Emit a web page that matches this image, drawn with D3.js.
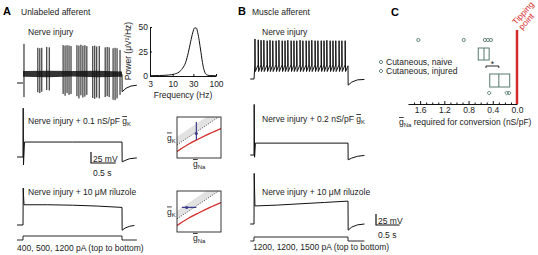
<!DOCTYPE html>
<html>
<head>
<meta charset="utf-8">
<script src="https://cdn.jsdelivr.net/npm/d3@7"></script>
<style>
    body { margin: 0; background: #fff; }
    svg text { font-family: "Liberation Sans", Arial, sans-serif; font-size: 8.5px; fill: #222; }
    .panel { font-size: 11px; font-weight: bold; fill: #000; }
</style>
</head>
<body>
<svg id="fig" width="538" height="255"></svg>
<script>
// ---- A: unlabeled afferent (times in s, stimulus 0-2 s, voltage in mV) ----
var aSpikeT = [0.02, 0.30, 0.34, 0.38, 0.48, 0.53, 0.81, 0.85, 0.89, 0.93, 0.97,
    1.09, 1.13, 1.17, 1.21, 1.25, 1.29, 1.41, 1.45, 1.49, 1.54, 1.66, 1.70, 1.74,
    1.82, 1.86, 1.90, 1.96];
var aSpikePeak = [24, 15, 14, 15, 17, 16, 21, 20, 21, 20, 19, 21, 20, 22, 20, 21, 19,
    19, 20, 18, 19, 16, 17, 16, 14, 15, 14, 10];
var aSpikeTrough = [-97, -86, -88, -85, -81, -82, -90, -94, -88, -92, -90, -95, -100,
    -93, -98, -96, -92, -99, -101, -98, -100, -97, -95, -97, -103, -104, -100, -92];
var aBandT = [0, 0.5, 1, 1.5, 2];
var aBandHi = [-38, -37, -38, -37, -39];
var aBandLo = [-51, -52, -50, -52, -51];
var aPreT = [-0.12, 0];
var aPreV = [-65, -65];
var aPostT = [2, 2.003, 2.08, 2.18, 2.3];
var aPostV = [-45, -85, -77, -72, -70];

var aGkT = [-0.12, 0, 0.004, 0.01, 0.03, 1, 2, 2.003, 2.06, 2.15, 2.3];
var aGkV = [-65, -65, 46, -83, -31, -31, -31, -76, -73, -69, -67];
var aRiluT = [-0.12, 0, 0.004, 0.02, 0.5, 1, 1.5, 2, 2.003, 2.06, 2.15, 2.25];
var aRiluV = [-65, -65, 19, -19, -19, -20, -22, -25, -77, -72, -68, -66];
var aStimT = [-0.12, 0, 0, 2, 2, 2.3];
var aStimI = [0, 0, 1, 1, 0, 0];
var aStimLabel = "400, 500, 1200 pA (top to bottom)";

// power spectrum of the nerve injury trace
var psdFreq = [3, 5, 8, 11, 14, 17, 20, 23, 26, 29, 32, 35, 38, 41, 45, 50, 55, 60, 70, 100];
var psdPower = [0.3, 0.5, 1, 2, 4, 8, 14, 24, 35, 44, 49, 49, 44, 36, 24, 11, 4, 1.5, 0.5, 0.2];
var psdYTicks = [0, 25, 50];
var psdXTicks = [3, 10, 30, 100];

// gK / gNa insets (arbitrary units 0-1)
var insetDotted = [[0, 0.32], [1, 1.04]];
var insetBand = [[0, 0.32], [1, 1.04], [1, 1.24], [0, 0.52]];
var insetRed = [[0, 0.16], [0.25, 0.33], [0.5, 0.47], [0.75, 0.6], [1, 0.72]];
var insetGk = { na: 0.44, k: 0.6, lo: 0.44, hi: 0.88 };          // vertical bar
var insetRilu = { na: 0.22, k: 0.6, lo: 0.11, hi: 0.44 };        // horizontal bar

// ---- B: muscle afferent ----
var bSpikeT = [0.02, 0.09, 0.15, 0.21, 0.28, 0.34, 0.40, 0.47, 0.53, 0.60, 0.66,
    0.72, 0.79, 0.85, 0.91, 0.98, 1.04, 1.11, 1.17, 1.23, 1.30, 1.36, 1.43, 1.49,
    1.55, 1.62, 1.68, 1.74, 1.81, 1.87, 1.94];
var bSpikePeak = [26, 24, 23, 23, 22, 23, 22, 22, 23, 22, 22, 23, 22, 22, 22, 23,
    22, 22, 22, 23, 22, 22, 22, 22, 23, 22, 22, 22, 22, 22, 22];
var bSpikeTrough = -48;
var bThresh = -33;
var bPostT = [2, 2.003, 2.08, 2.2, 2.35];
var bPostV = [-35, -79, -72, -67, -66];

var bGkT = [-0.08, 0, 0.004, 0.012, 0.03, 1, 2, 2.003, 2.08, 2.2, 2.35];
var bGkV = [-65, -65, 50, -70, -38, -38, -38, -76, -72, -68, -66];
var bRiluT = [-0.08, 0, 0.004, 0.02, 0.5, 1, 1.5, 2, 2.003, 2.08, 2.2, 2.35];
var bRiluV = [-65, -65, 50, -24, -22, -19, -16, -13, -79, -72, -67, -65];
var bStimT = [-0.08, 0, 0, 2, 2, 2.35];
var bStimI = [0, 0, 1, 1, 0, 0];
var bStimLabel = "1200, 1200, 1500 pA (top to bottom)";

// ---- C: gNa required for conversion (nS/pF) ----
var cNaive = [1.63, 0.88, 0.53, 0.48, 0.43];
var cInjured = [0.46, 0.17, 0.13];
var cNaiveBox = { q1: 0.46, med: 0.545, q3: 0.64 };
var cInjuredBox = { q1: 0.12, med: 0.30, q3: 0.45 };
var cTicks = [0, 0.4, 0.8, 1.2, 1.6];
var cMinorTicks = [0.1, 0.2, 0.3, 0.5, 0.6, 0.7, 0.9, 1.0, 1.1, 1.3, 1.4, 1.5, 1.7];
var cLegend = ["Cutaneous, naive", "Cutaneous, injured"];

var svg = d3.select("#fig");
var mvPx = 11 / 25; // 25 mV scale bar is 11 px tall
var ink = "#111";
var green = "#557a6c";
var red = "#d42a2a";

function makeRow(x0, pxPerS, restY) {
    return {
        x: d3.scaleLinear().domain([0, 2]).range([x0, x0 + 2 * pxPerS]),
        y: d3.scaleLinear().domain([-65, -40]).range([restY, restY - 25 * mvPx])
    };
}

function drawTrace(r, T, V) {
    var line = d3.line()
        .x(function (d) { return r.x(d[0]); })
        .y(function (d) { return r.y(d[1]); });
    svg.append("path")
        .attr("d", line(d3.zip(T, V)))
        .attr("fill", "none")
        .attr("stroke", ink)
        .attr("stroke-width", 1);
}

function drawStim(r, T, I, yLow) {
    var ys = d3.scaleLinear().domain([0, 1]).range([yLow, yLow - 4]);
    var line = d3.line()
        .x(function (d) { return r.x(d[0]); })
        .y(function (d) { return ys(d[1]); });
    svg.append("path")
        .attr("d", line(d3.zip(T, I)))
        .attr("fill", "none")
        .attr("stroke", ink)
        .attr("stroke-width", 0.9);
}

// text with g-bar and subscript
function gbar(sel, sub) {
    sel.append("tspan").text("g").style("text-decoration", "overline");
    sel.append("tspan").text(sub).attr("font-size", "6px").attr("dy", 2);
}

function label(x, y, txt, cls) {
    return svg.append("text").attr("x", x).attr("y", y).attr("class", cls || null).text(txt);
}

function scaleBar(r, x, y) {
    var w = r.x(0.5) - r.x(0);
    var h = 25 * mvPx;
    svg.append("path")
        .attr("d", "M" + x + "," + (y - h) + "V" + y + "H" + (x + w))
        .attr("fill", "none").attr("stroke", ink).attr("stroke-width", 1.2);
    label(x + 2, y - 1.5, "25 mV");
    label(x + 2, y + 13, "0.5 s");
}

// ================= panel A =================
label(3, 15, "A", "panel");
label(21, 15, "Unlabeled afferent");
label(28, 35, "Nerve injury");

var rA1 = makeRow(23, 49.5, 83);
drawTrace(rA1, aPreT, aPreV);
svg.append("path")
    .attr("d", d3.area()
        .x(function (d) { return rA1.x(d[0]); })
        .y0(function (d) { return rA1.y(d[2]); })
        .y1(function (d) { return rA1.y(d[1]); })(d3.zip(aBandT, aBandHi, aBandLo)))
    .attr("fill", ink).attr("opacity", 0.85);
svg.append("g").selectAll("line")
    .data(d3.zip(aSpikeT, aSpikePeak, aSpikeTrough))
    .enter().append("line")
    .attr("x1", function (d) { return rA1.x(d[0]); })
    .attr("x2", function (d) { return rA1.x(d[0]); })
    .attr("y1", function (d) { return rA1.y(d[1]); })
    .attr("y2", function (d) { return rA1.y(d[2]); })
    .attr("stroke", ink).attr("stroke-width", 1);
drawTrace(rA1, aPostT, aPostV);

var rA2 = makeRow(23, 49.5, 157);
var t2 = label(28, 124, "Nerve injury + 0.1 nS/pF ");
gbar(t2, "K");
drawTrace(rA2, aGkT, aGkV);
scaleBar(rA2, 91, 163);

var rA3 = makeRow(23, 49.5, 225);
label(28, 195, "Nerve injury + 10 \u03bcM riluzole");
drawTrace(rA3, aRiluT, aRiluV);
drawStim(rA3, aStimT, aStimI, 240);
label(17, 251, aStimLabel);

// power spectrum inset
var px = d3.scaleLog().domain([3, 100]).range([150, 216]);
var py = d3.scaleLinear().domain([0, 50]).range([76, 27]);
var psd = svg.append("g");
psd.append("g")
    .attr("transform", "translate(0," + py(0) + ")")
    .call(d3.axisBottom(px).tickValues(psdXTicks).tickFormat(d3.format("d"))
        .tickSizeInner(-2).tickSizeOuter(0).tickPadding(5));
psd.append("g")
    .attr("transform", "translate(" + px(3) + ",0)")
    .call(d3.axisLeft(py).tickValues(psdYTicks).tickSizeInner(-2).tickSizeOuter(0).tickPadding(2));
psd.selectAll(".domain, .tick line").attr("stroke", ink);
psd.selectAll(".tick text").attr("font-size", "8.5px").attr("font-family", null);
psd.append("path")
    .attr("d", d3.line()
        .x(function (d) { return px(d[0]); })
        .y(function (d) { return py(d[1]); })
        .curve(d3.curveMonotoneX)(d3.zip(psdFreq, psdPower)))
    .attr("fill", "none").attr("stroke", ink).attr("stroke-width", 1);
psd.append("text").attr("x", 183).attr("y", 98).attr("text-anchor", "middle").text("Frequency (Hz)");
psd.append("text")
    .attr("transform", "translate(131,51) rotate(-90)")
    .attr("text-anchor", "middle").text("Power (\u03bcV\u00b2/Hz)");

// gK-gNa insets
function drawInset(y0, m, id, horiz) {
    var x0 = 177, w = 44, h = 41;
    var ix = d3.scaleLinear().domain([0, 1]).range([x0, x0 + w]);
    var iy = d3.scaleLinear().domain([0, 1]).range([y0 + h, y0]);
    var line = d3.line()
        .x(function (d) { return ix(d[0]); })
        .y(function (d) { return iy(d[1]); });
    svg.append("clipPath").attr("id", id)
        .append("rect").attr("x", x0).attr("y", y0).attr("width", w).attr("height", h);
    var g = svg.append("g").attr("clip-path", "url(#" + id + ")");
    g.append("path").attr("d", line(insetBand) + "Z").attr("fill", "#e2e2e2");
    g.append("path").attr("d", line(insetDotted)).attr("stroke", "#333")
        .attr("stroke-width", 0.9).attr("stroke-dasharray", "1,1.5").attr("fill", "none");
    g.append("path").attr("d", line.curve(d3.curveMonotoneX)(insetRed)).attr("stroke", red)
        .attr("stroke-width", 1.3).attr("fill", "none");
    var blue = "#3b3b8e";
    if (horiz) {
        g.append("line").attr("x1", ix(m.lo)).attr("x2", ix(m.hi))
            .attr("y1", iy(m.k)).attr("y2", iy(m.k)).attr("stroke", blue).attr("stroke-width", 1.2);
    } else {
        g.append("line").attr("x1", ix(m.na)).attr("x2", ix(m.na))
            .attr("y1", iy(m.lo)).attr("y2", iy(m.hi)).attr("stroke", blue).attr("stroke-width", 1.2);
    }
    g.append("circle").attr("cx", ix(m.na)).attr("cy", iy(m.k)).attr("r", 1.5).attr("fill", blue);
    svg.append("rect").attr("x", x0).attr("y", y0).attr("width", w).attr("height", h)
        .attr("fill", "none").attr("stroke", "#222").attr("stroke-width", 0.9);
    gbar(label(167, y0 + h / 2 + 3, ""), "K");
    gbar(label(193, y0 + h + 9, ""), "Na");
}
drawInset(117, insetGk, "clipA2", false);
drawInset(191, insetRilu, "clipA3", true);

// ================= panel B =================
label(238, 15, "B", "panel");
label(252, 15, "Muscle afferent");
label(262, 35, "Nerve injury");

var rB1 = makeRow(254, 47, 79);
var bPts = [[-0.08, -65], [0, -65]];
bSpikeT.forEach(function (t, i) {
    bPts.push([t - 0.002, bThresh]);
    bPts.push([t, bSpikePeak[i]]);
    bPts.push([t + 0.008, bSpikeTrough]);
});
bPts.push([bPostT[0], bPostV[0]]);
drawTrace(rB1, bPts.map(function (d) { return d[0]; }), bPts.map(function (d) { return d[1]; }));
drawTrace(rB1, bPostT, bPostV);

var rB2 = makeRow(254, 47, 155);
var tb2 = label(262, 122, "Nerve injury + 0.2 nS/pF ");
gbar(tb2, "K");
drawTrace(rB2, bGkT, bGkV);

var rB3 = makeRow(254, 47, 224);
label(262, 195, "Nerve injury + 10 \u03bcM riluzole");
drawTrace(rB3, bRiluT, bRiluV);
drawStim(rB3, bStimT, bStimI, 241);
label(253, 250, bStimLabel);
scaleBar(rB3, 376, 225);

// ================= panel C =================
label(391, 16, "C", "panel");
var cx = d3.scaleLinear().domain([1.8, 0]).range([408, 517]);
var c = svg.append("g");

c.append("g")
    .attr("transform", "translate(0,104)")
    .call(d3.axisBottom(cx).tickValues(cTicks).tickFormat(d3.format(".1f"))
        .tickSizeInner(-3).tickSizeOuter(0).tickPadding(3));
c.append("g")
    .attr("transform", "translate(0,104)")
    .call(d3.axisBottom(cx).tickValues(cMinorTicks).tickFormat("")
        .tickSizeInner(-1.5).tickSizeOuter(0))
    .select(".domain").remove();
c.selectAll(".domain, .tick line").attr("stroke", ink);
c.selectAll(".tick text").attr("font-size", "8.5px").attr("font-family", null);

var cl = c.append("text").attr("x", 399).attr("y", 125);
gbar(cl, "Na");
cl.append("tspan").attr("dy", -2).text(" required for conversion (nS/pF)");

// tipping point
c.append("line").attr("x1", cx(0)).attr("x2", cx(0)).attr("y1", 30).attr("y2", 104)
    .attr("stroke", red).attr("stroke-width", 2.5);
var tp = c.append("g").attr("transform", "translate(523,13) rotate(-48)");
tp.append("text").attr("x", 0).attr("y", 3).attr("text-anchor", "middle").style("fill", red).text("Tipping");
tp.append("text").attr("x", -4).attr("y", 11).attr("text-anchor", "middle").style("fill", red).text("point");

// boxes
function box(b, yTop, h) {
    c.append("rect").attr("x", cx(b.q3)).attr("y", yTop)
        .attr("width", cx(b.q1) - cx(b.q3)).attr("height", h)
        .attr("fill", "none").attr("stroke", green).attr("stroke-width", 1);
    c.append("line").attr("x1", cx(b.med)).attr("x2", cx(b.med))
        .attr("y1", yTop).attr("y2", yTop + h).attr("stroke", green).attr("stroke-width", 1);
}
box(cNaiveBox, 48, 12);
box(cInjuredBox, 74, 13);

c.append("g").selectAll("circle").data(cNaive).enter().append("circle")
    .attr("cx", function (d) { return cx(d); }).attr("cy", 40).attr("r", 1.6)
    .attr("fill", "none").attr("stroke", green).attr("stroke-width", 0.9);
var diamond = d3.symbol().type(d3.symbolDiamond2).size(10);
c.append("g").selectAll("path").data(cInjured).enter().append("path")
    .attr("d", diamond)
    .attr("transform", function (d) { return "translate(" + cx(d) + ",93)"; })
    .attr("fill", "none").attr("stroke", green).attr("stroke-width", 0.9);

// significance bracket
var bx1 = cx(cNaiveBox.med) + 2, bx2 = cx(cInjuredBox.med);
c.append("path").attr("d", "M" + bx1 + ",68V66H" + bx2 + "V68")
    .attr("fill", "none").attr("stroke", ink).attr("stroke-width", 0.9);
c.append("text").attr("x", (bx1 + bx2) / 2).attr("y", 67).attr("text-anchor", "middle").text("*");

// legend
c.append("circle").attr("cx", 381).attr("cy", 62).attr("r", 1.6)
    .attr("fill", "none").attr("stroke", green).attr("stroke-width", 0.9);
c.append("path").attr("d", diamond).attr("transform", "translate(381,71)")
    .attr("fill", "none").attr("stroke", green).attr("stroke-width", 0.9);
c.append("text").attr("x", 386).attr("y", 65).text(cLegend[0]);
c.append("text").attr("x", 386).attr("y", 74).text(cLegend[1]);
</script>
</body>
</html>
